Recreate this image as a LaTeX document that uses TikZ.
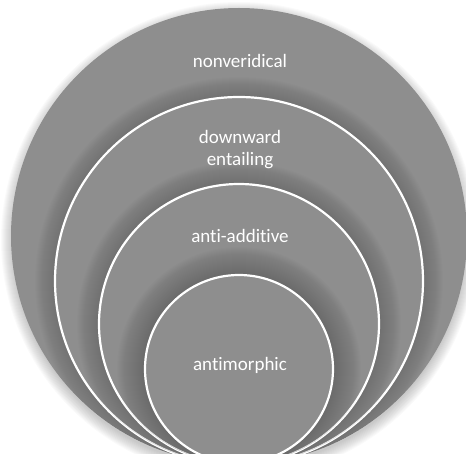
\documentclass[tikz,border=0pt]{standalone}
\usepackage{fontspec}
\setmainfont[Ligatures={NoCommon,NoDiscretionary}]{Carlito}
\begin{document}
\begin{tikzpicture}[x=1pt,y=-1pt,
  ring/.style={fill=ringgray,draw=white,line width=2.2pt},
  lbl/.style={text=white,font=\fontsize{19}{22}\selectfont,align=center,inner sep=0pt}]
\definecolor{ringgray}{RGB}{142,142,142}
\useasboundingbox (0,0) rectangle (466,454);
\clip (0,0) rectangle (466,454);
% outer soft shadow
\foreach \i in {1,...,12}{
  \fill[black,opacity=0.018] (239,240) circle ({226pt+\i pt});
}
% outer circle
\fill[ringgray] (239,236) circle (228pt);
% shadow of circle 2
\begin{scope}
  \clip (239,236) circle (228pt);
  \foreach \i in {1,...,20}{\fill[black,opacity=0.006] (239,281) circle ({184pt+\i pt});}
\end{scope}
\draw[ring] (239,281) circle (184pt);
% shadow of circle 3
\begin{scope}
  \clip (239,281) circle (184pt);
  \foreach \i in {1,...,22}{\fill[black,opacity=0.007] (239,324) circle ({140pt+\i pt});}
\end{scope}
\draw[ring] (239,324) circle (140pt);
% shadow of circle 4
\begin{scope}
  \clip (239,324) circle (140pt);
  \foreach \i in {1,...,28}{\fill[black,opacity=0.009] (239,369) circle ({94pt+\i pt});}
\end{scope}
\draw[ring] (239,369) circle (94pt);
% labels
\node[lbl] (nv) at (240,61) {nonveridical};
\node[lbl] (de) at (240,150) {downward\\entailing};
\node[lbl] (aa) at (240,236) {an{}ti-addi{}ti{}ve};
\node[lbl] (am) at (240,365) {antimorphic};
\end{tikzpicture}
\end{document}
